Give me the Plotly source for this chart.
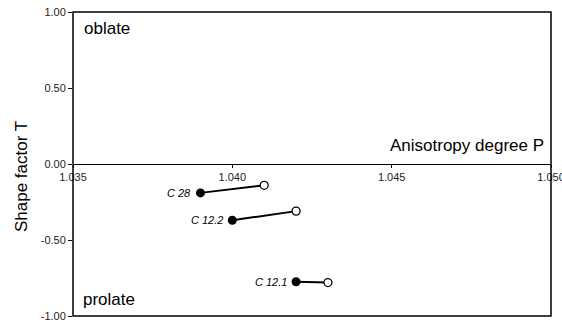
import plotly.graph_objects as go

samples = ["C 28", "C 12.2", "C 12.1"]
P_start = [1.0390, 1.0400, 1.0420]
T_start = [-0.19, -0.37, -0.775]
P_end = [1.0410, 1.0420, 1.0430]
T_end = [-0.14, -0.31, -0.78]

x_ticks = [1.035, 1.040, 1.045, 1.050]
y_ticks = [1.0, 0.5, 0.0, -0.5, -1.0]

FONT = "Liberation Sans, Arial, sans-serif"

fig = go.Figure()
for i in range(len(samples)):
    fig.add_trace(go.Scatter(
        x=[P_start[i], P_end[i]], y=[T_start[i], T_end[i]],
        mode="lines", line=dict(color="black", width=2), showlegend=False,
        hoverinfo="skip"))
fig.add_trace(go.Scatter(
    x=P_end, y=T_end, mode="markers",
    marker=dict(symbol="circle", size=8, color="white",
                line=dict(color="black", width=1.3)),
    showlegend=False))
fig.add_trace(go.Scatter(
    x=P_start, y=T_start, mode="markers",
    marker=dict(symbol="circle", size=9, color="black",
                line=dict(color="black", width=0)),
    showlegend=False))

for i, s in enumerate(samples):
    fig.add_annotation(x=P_start[i], y=T_start[i], text=f"<i>{s}</i>", showarrow=False,
                       xanchor="right", yanchor="middle", xshift=-7,
                       font=dict(family=FONT, size=11, color="black"))

fig.add_annotation(xref="paper", yref="paper", x=0.018, y=0.985, text="oblate",
                   showarrow=False, xanchor="left", yanchor="top",
                   font=dict(family=FONT, size=17, color="black"))
fig.add_annotation(xref="paper", yref="paper", x=0.016, y=0.015, text="prolate",
                   showarrow=False, xanchor="left", yanchor="bottom",
                   font=dict(family=FONT, size=17, color="black"))
fig.add_annotation(xref="paper", yref="paper", x=0.99, y=0.56,
                   text="Anisotropy degree P", showarrow=False,
                   xanchor="right", yanchor="middle",
                   font=dict(family=FONT, size=17, color="black"))
fig.add_annotation(xref="paper", yref="paper", x=-0.109, y=0.46,
                   text="Shape factor T", showarrow=False, textangle=-90,
                   xanchor="center", yanchor="middle",
                   font=dict(family=FONT, size=17, color="black"))

fig.add_shape(type="rect", xref="paper", yref="paper", x0=0, x1=1, y0=0, y1=1,
              line=dict(color="black", width=1.5), layer="above")

fig.update_layout(
    width=562, height=322,
    margin=dict(l=73, r=11, t=12, b=6, autoexpand=False),
    paper_bgcolor="white", plot_bgcolor="white",
    font=dict(family=FONT, size=11, color="black"),
    xaxis=dict(range=[1.035, 1.050], tickvals=x_ticks,
               ticktext=[f"{v:.3f}" for v in x_ticks],
               anchor="free", position=0.5, showline=True,
               linecolor="black", linewidth=1.2,
               ticks="outside", ticklen=3, tickcolor="black",
               showgrid=False, zeroline=False, ticklabeloverflow="allow",
               automargin=False,
               tickfont=dict(family=FONT, size=11, color="#222")),
    yaxis=dict(range=[-1, 1], tickvals=y_ticks,
               ticktext=[f"{v:.2f}" for v in y_ticks],
               showline=False, automargin=False,
               ticks="outside", ticklen=4, tickcolor="black",
               showgrid=False, zeroline=False,
               tickfont=dict(family=FONT, size=11, color="#222")),
)

fig.write_html("out.html")
